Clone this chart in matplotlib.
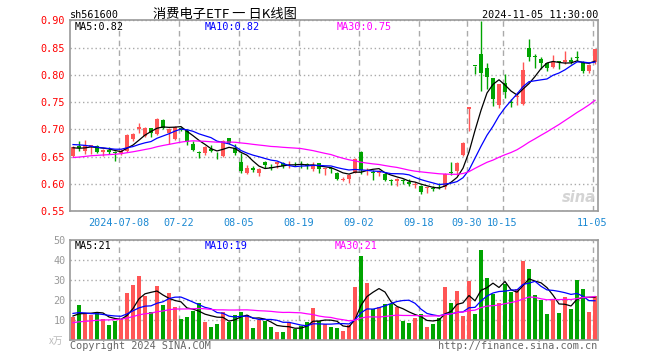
import numpy as np
import pandas as pd
import matplotlib
matplotlib.use('Agg')
import matplotlib.pyplot as plt

# daily candles, 2024-06-27 .. 2024-11-05 (88 trading days shown)
opens = [0.652, 0.669, 0.661, 0.668, 0.669, 0.659, 0.662, 0.658, 0.656, 0.660,
         0.683, 0.700, 0.688, 0.702, 0.691, 0.718, 0.694, 0.682, 0.702, 0.698,
         0.674, 0.658, 0.657, 0.665, 0.657, 0.651, 0.684, 0.666, 0.640, 0.621,
         0.630, 0.620, 0.641, 0.632, 0.637, 0.638, 0.636, 0.637, 0.636, 0.637,
         0.627, 0.638, 0.627, 0.630, 0.621, 0.608, 0.609, 0.621, 0.659, 0.624,
         0.621, 0.620, 0.619, 0.606, 0.606, 0.606, 0.604, 0.598, 0.597, 0.592,
         0.593, 0.594, 0.595, 0.621, 0.624, 0.654, 0.738, 0.817, 0.839, 0.812,
         0.794, 0.745, 0.785, 0.750, 0.760, 0.746, 0.850, 0.834, 0.829, 0.821,
         0.815, 0.825, 0.823, 0.827, 0.832, 0.823, 0.807, 0.823]
highs = [0.670, 0.678, 0.681, 0.672, 0.671, 0.664, 0.668, 0.660, 0.665, 0.692,
         0.694, 0.712, 0.704, 0.703, 0.721, 0.719, 0.703, 0.706, 0.705, 0.700,
         0.678, 0.661, 0.670, 0.672, 0.658, 0.680, 0.685, 0.674, 0.657, 0.635,
         0.633, 0.630, 0.642, 0.636, 0.641, 0.641, 0.642, 0.640, 0.643, 0.638,
         0.640, 0.639, 0.630, 0.631, 0.622, 0.613, 0.619, 0.648, 0.660, 0.630,
         0.626, 0.626, 0.620, 0.609, 0.611, 0.609, 0.609, 0.604, 0.598, 0.595,
         0.597, 0.602, 0.620, 0.640, 0.641, 0.677, 0.742, 0.817, 0.898, 0.821,
         0.795, 0.784, 0.801, 0.755, 0.769, 0.823, 0.866, 0.838, 0.832, 0.822,
         0.837, 0.826, 0.844, 0.833, 0.843, 0.826, 0.820, 0.848]
lows = [0.650, 0.660, 0.655, 0.655, 0.657, 0.652, 0.655, 0.642, 0.654, 0.658,
        0.679, 0.694, 0.686, 0.686, 0.689, 0.700, 0.674, 0.680, 0.697, 0.672,
        0.660, 0.647, 0.654, 0.658, 0.646, 0.650, 0.674, 0.654, 0.621, 0.619,
        0.622, 0.614, 0.629, 0.626, 0.629, 0.630, 0.629, 0.633, 0.629, 0.627,
        0.623, 0.621, 0.617, 0.620, 0.608, 0.605, 0.602, 0.620, 0.619, 0.617,
        0.608, 0.614, 0.605, 0.599, 0.597, 0.600, 0.597, 0.592, 0.582, 0.583,
        0.588, 0.590, 0.590, 0.617, 0.617, 0.652, 0.697, 0.801, 0.771, 0.774,
        0.743, 0.739, 0.758, 0.741, 0.745, 0.745, 0.826, 0.813, 0.810, 0.807,
        0.813, 0.810, 0.820, 0.820, 0.826, 0.804, 0.803, 0.820]
closes = [0.668, 0.666, 0.671, 0.671, 0.659, 0.662, 0.659, 0.656, 0.661, 0.690,
          0.691, 0.704, 0.702, 0.694, 0.720, 0.703, 0.700, 0.704, 0.699, 0.677,
          0.663, 0.657, 0.667, 0.660, 0.656, 0.678, 0.675, 0.657, 0.624, 0.630,
          0.625, 0.628, 0.635, 0.630, 0.640, 0.633, 0.637, 0.636, 0.635, 0.633,
          0.634, 0.628, 0.628, 0.627, 0.610, 0.609, 0.617, 0.646, 0.626, 0.626,
          0.620, 0.623, 0.608, 0.605, 0.609, 0.605, 0.600, 0.599, 0.586, 0.594,
          0.591, 0.593, 0.618, 0.620, 0.638, 0.676, 0.741, 0.816, 0.804, 0.797,
          0.755, 0.783, 0.768, 0.749, 0.761, 0.809, 0.833, 0.833, 0.821, 0.813,
          0.823, 0.824, 0.827, 0.823, 0.831, 0.807, 0.818, 0.847]
volumes = [11.7, 17.5, 13.3, 12.5, 14.0, 10.3, 7.5, 9.5, 10.3, 23.7,
           27.5, 32.0, 22.0, 14.0, 27.0, 17.5, 23.7, 16.5, 10.7, 11.7,
           14.5, 18.7, 9.0, 6.7, 8.2, 14.0, 9.2, 12.5, 14.0, 12.5,
           6.2, 10.0, 9.5, 6.7, 4.0, 4.0, 9.0, 5.7, 7.0, 9.0,
           16.2, 9.5, 8.2, 6.7, 6.2, 4.5, 7.3, 26.5, 42.0, 28.3,
           15.3, 16.5, 17.8, 17.8, 16.5, 9.5, 8.7, 11.2, 12.8, 6.7,
           8.2, 11.2, 26.5, 18.7, 24.5, 12.0, 29.5, 13.2, 45.0, 31.2,
           23.2, 18.7, 28.2, 24.2, 25.3, 39.5, 35.7, 22.5, 20.0, 13.2,
           20.7, 13.7, 21.7, 15.7, 30.0, 25.3, 14.0, 22.0]

# sessions before the window, only feed the moving averages
prev_closes = [0.640, 0.636, 0.633, 0.638, 0.642, 0.639, 0.634, 0.631, 0.636, 0.640,
               0.643, 0.638, 0.632, 0.630, 0.634, 0.639, 0.641, 0.637, 0.633, 0.636,
               0.672, 0.680, 0.685, 0.678, 0.676, 0.670, 0.668, 0.662, 0.664]
prev_volumes = [5.0, 6.0, 5.5, 4.8, 6.2, 5.5, 5.0, 6.0, 5.8, 5.2,
                5.6, 6.1, 5.0, 5.4, 5.9, 5.3, 5.7, 10.5, 11.0, 11.5,
                13.5, 15.0, 16.0, 14.5, 14.0, 12.0, 12.5, 11.8, 12.0]

date_idx = [8, 18, 28, 38, 48, 58, 66, 72, 87]
date_labels = ['2024-07-08', '07-22', '08-05', '08-19', '09-02', '09-18', '09-30', '10-15', '11-05']
price_ticks = [0.55, 0.60, 0.65, 0.70, 0.75, 0.80, 0.85, 0.90]
vol_ticks = [10, 20, 30, 40, 50]
price_ma_text = ['MA5:0.82', 'MA10:0.82', 'MA30:0.75']
vol_ma_text = ['MA5:21', 'MA10:19', 'MA30:21']

RED = '#ff5555'
GREEN = '#00a400'
GRID = '#aaaaaa'
FRAME = '#999999'
DATE_C = '#1a88d2'
MA_C = ['black', '#0000ff', '#ff00ff']
MONO = 'DejaVu Sans Mono'

W, H = 660, 360

def fx(px):
    return px / W

def fy(py):
    return 1 - py / H

n = len(closes)
x = np.arange(n)
colors = [RED if c >= o else GREEN for o, c in zip(opens, closes)]

all_c = pd.Series(prev_closes + closes)
all_v = pd.Series(prev_volumes + volumes)
k = len(prev_closes)
price_ma = [all_c.rolling(w).mean().values[k:] for w in (5, 10, 30)]
vol_ma = [all_v.rolling(w).mean().values[k:] for w in (5, 10, 30)]

fig = plt.figure(figsize=(W / 100, H / 100), dpi=100)
fig.patch.set_facecolor('white')

ax = fig.add_axes([fx(70), fy(211.3), fx(528), 191 / H])
axv = fig.add_axes([fx(70), fy(340), fx(528), 100 / H])

for a in (ax, axv):
    a.set_xlim(-0.5, n - 0.5)
    for s in a.spines.values():
        s.set_color(FRAME)
        s.set_linewidth(1.2)
    for d in date_idx:
        a.axvline(d - 0.4, color=GRID, lw=1, ls=(0, (4, 3)), zorder=0)
    a.tick_params(length=0)

# price panel
ax.set_ylim(0.55, 0.90)
ax.set_yticks(price_ticks)
ax.set_yticklabels([f'{t:.2f}' for t in price_ticks], color='red', fontsize=7.3, family=MONO)
ax.tick_params(axis='y', pad=4)
ax.yaxis.grid(True, ls=(0, (1, 2)), color=GRID, lw=1)
ax.set_xticks([d - 0.4 for d in date_idx])
ax.set_xticklabels(date_labels, color=DATE_C, fontsize=7.3, family=MONO)
ax.tick_params(axis='x', pad=5)

for i in range(n):
    ax.vlines(x[i], lows[i], highs[i], color=colors[i], lw=1, zorder=2)
    body = max(abs(closes[i] - opens[i]), 0.0015)
    ax.bar(x[i], body, bottom=min(opens[i], closes[i]), width=0.8,
           color=colors[i], lw=0, zorder=3)

for m, c in zip(price_ma, MA_C):
    ax.plot(x, m, color=c, lw=0.9, zorder=4)

# volume panel
axv.set_ylim(0, 50)
axv.set_yticks(vol_ticks)
axv.set_yticklabels([str(t) for t in vol_ticks], color='#999999', fontsize=7.3, family=MONO)
axv.tick_params(axis='y', pad=3)
axv.yaxis.grid(True, ls=(0, (1, 2)), color=GRID, lw=1)
axv.set_xticks([])
axv.bar(x, volumes, width=0.83, color=colors, lw=0, zorder=2)
for m, c in zip(vol_ma, MA_C):
    axv.plot(x, m, color=c, lw=0.9, zorder=4)

# texts
fig.text(fx(70), fy(15), 'sh561600', fontsize=7.3, family=MONO, va='center')
fig.text(fx(225), fy(14), '消费电子ETF 一 日K线图', fontsize=9.5, ha='center', va='center',
         family=['Noto Sans CJK SC', 'DejaVu Sans'])
fig.text(fx(598), fy(15), '2024-11-05 11:30:00', fontsize=7.3, family=MONO, ha='right', va='center')

for txt, px, c in zip(price_ma_text, (75, 205, 337), MA_C):
    fig.text(fx(px), fy(26.5), txt, color=c, fontsize=7.3, family=MONO, va='center')
for txt, px, c in zip(vol_ma_text, (75, 205, 335), MA_C):
    fig.text(fx(px), fy(246), txt, color=c, fontsize=7.3, family=MONO, va='center')

fig.text(fx(63), fy(341), 'x万', color='#bbbbbb', fontsize=7, ha='right', va='center',
         family=['Noto Sans CJK SC', 'DejaVu Sans'])
fig.text(fx(70), fy(346), 'Copyright 2024 SINA.COM', color='#666666', fontsize=7.3,
         family=MONO, va='center')
fig.text(fx(597), fy(346), 'http://finance.sina.com.cn', color='#666666', fontsize=7.3,
         family=MONO, ha='right', va='center')
fig.text(fx(596), fy(197), 'sina', color='#d4d4d4', fontsize=10.5, fontweight='bold',
         style='italic', ha='right', va='center', zorder=1)

fig.savefig('out.png', dpi=100, facecolor='white')
